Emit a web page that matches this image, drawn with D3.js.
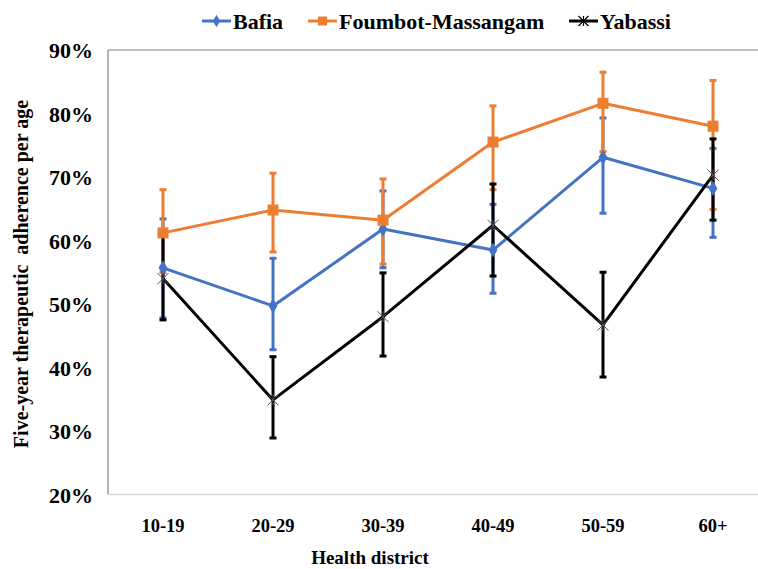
<!DOCTYPE html>
<html>
<head>
<meta charset="utf-8">
<script src="https://cdn.jsdelivr.net/npm/d3@7"></script>
<style>
  body { margin: 0; background: #fff; }
  svg text { font-family: "Liberation Serif", "Times New Roman", serif; font-weight: bold; fill: #000; }
</style>
</head>
<body>
<div id="chart"></div>
<script>
const categories = ["10-19", "20-29", "30-39", "40-49", "50-59", "60+"];

const bafia = [55.7, 49.7, 61.8, 58.5, 73.1, 68.2];
const bafiaHigh = [63.4, 57.2, 67.8, 65.7, 79.3, 74.5];
const bafiaLow = [47.8, 42.8, 55.7, 51.7, 64.3, 60.5];

const foumbot = [61.2, 64.8, 63.2, 75.5, 81.6, 78.0];
const foumbotHigh = [68.0, 70.6, 69.7, 81.2, 86.5, 85.2];
const foumbotLow = [55.0, 58.2, 56.3, 68.0, 74.0, 64.9];

const yabassi = [54.0, 34.9, 48.0, 62.4, 46.7, 70.3];
const yabassiHigh = [61.2, 41.7, 54.9, 68.9, 55.0, 76.0];
const yabassiLow = [47.5, 28.9, 41.8, 54.4, 38.5, 63.2];

const yTicks = [20, 30, 40, 50, 60, 70, 80, 90];

const series = [
    { name: "Bafia", values: bafia, high: bafiaHigh, low: bafiaLow, color: "#4472C4", marker: "diamond" },
    { name: "Foumbot-Massangam", values: foumbot, high: foumbotHigh, low: foumbotLow, color: "#ED7D31", marker: "square" },
    { name: "Yabassi", values: yabassi, high: yabassiHigh, low: yabassiLow, color: "#000000", marker: "star" }
];

let width = 758, height = 569;
let plotLeft = 108, plotTop = 50, plotBottom = 494.5, plotRight = 768;

let svg = d3.select("#chart").append("svg").attr("width", width).attr("height", height);

let x = d3.scaleBand().domain(categories).range([plotLeft, plotRight]).padding(0);
let y = d3.scaleLinear().domain([20, 90]).range([plotBottom, plotTop]);
let cx = c => x(c) + x.bandwidth() / 2;

// plot frame
svg.append("line").attr("x1", plotLeft).attr("x2", width).attr("y1", plotTop).attr("y2", plotTop)
    .attr("stroke", "#808080").attr("stroke-width", 1.2);
svg.append("line").attr("x1", plotLeft).attr("x2", plotLeft).attr("y1", plotTop).attr("y2", plotBottom)
    .attr("stroke", "#808080").attr("stroke-width", 1.2);
svg.append("line").attr("x1", plotLeft).attr("x2", width).attr("y1", plotBottom).attr("y2", plotBottom)
    .attr("stroke", "#d9d9d9").attr("stroke-width", 1.5);

// y axis labels
let yAxis = d3.axisLeft(y).tickValues(yTicks).tickFormat(d => d + "%").tickSize(0).tickPadding(15);
let yg = svg.append("g").attr("transform", `translate(${plotLeft},0)`).call(yAxis);
yg.select(".domain").remove();
yg.selectAll("text").style("font-size", "22px").attr("dy", "0.35em");

// x axis labels
let xAxis = d3.axisBottom(x).tickSize(0).tickPadding(24);
let xg = svg.append("g").attr("transform", `translate(0,${plotBottom})`).call(xAxis);
xg.select(".domain").remove();
xg.selectAll("text").style("font-size", "18.5px");

// axis titles
svg.append("text").attr("x", 370).attr("y", 564).attr("text-anchor", "middle")
    .style("font-size", "19px").text("Health district");
svg.append("text").attr("transform", "translate(28,274) rotate(-90)").attr("text-anchor", "middle")
    .style("font-size", "20px").style("white-space", "pre")
    .text("Five-year therapeutic  adherence per age");

// error bars
series.forEach(s => {
    let g = svg.append("g");
    categories.forEach((c, i) => {
        g.append("line").attr("x1", cx(c)).attr("x2", cx(c))
            .attr("y1", y(s.low[i])).attr("y2", y(s.high[i]))
            .attr("stroke", s.color).attr("stroke-width", 3);
        [s.low[i], s.high[i]].forEach(v => {
            g.append("line").attr("x1", cx(c) - 3.5).attr("x2", cx(c) + 3.5)
                .attr("y1", y(v)).attr("y2", y(v))
                .attr("stroke", s.color).attr("stroke-width", 3);
        });
    });
});

// lines
let line = d3.line().x((d, i) => cx(categories[i])).y(d => y(d));
series.forEach(s => {
    svg.append("path").attr("d", line(s.values)).attr("fill", "none")
        .attr("stroke", s.color).attr("stroke-width", 3).attr("stroke-linejoin", "round");
});

function drawMarker(g, type, px, py, color, size) {
    if (type === "diamond") {
        g.append("path").attr("d", d3.symbol(d3.symbolDiamond, size * size * 0.55)())
            .attr("transform", `translate(${px},${py})`).attr("fill", color);
    } else if (type === "square") {
        g.append("rect").attr("x", px - size / 2).attr("y", py - size / 2)
            .attr("width", size).attr("height", size).attr("fill", color);
    } else {
        let r = size / 2;
        g.append("path")
            .attr("d", `M${px - r},${py - r}L${px + r},${py + r}M${px - r},${py + r}L${px + r},${py - r}M${px},${py - r}L${px},${py + r}`)
            .attr("stroke", "#555").attr("stroke-width", 1).attr("fill", "none");
    }
}

// markers
series.forEach(s => {
    let g = svg.append("g");
    categories.forEach((c, i) => drawMarker(g, s.marker, cx(c), y(s.values[i]), s.color, 11));
});

// legend
let legendX = [202, 308, 569];
series.forEach((s, i) => {
    let g = svg.append("g");
    g.append("line").attr("x1", legendX[i]).attr("x2", legendX[i] + 29).attr("y1", 21).attr("y2", 21)
        .attr("stroke", s.color).attr("stroke-width", 3);
    if (s.marker === "star") {
        let px = legendX[i] + 14.5, r = 5;
        g.append("path")
            .attr("d", `M${px - r},${16}L${px + r},${26}M${px - r},${26}L${px + r},${16}M${px},${16}L${px},${26}`)
            .attr("stroke", "#000").attr("stroke-width", 1.2);
    } else {
        drawMarker(g, s.marker, legendX[i] + 14.5, 21, s.color, 9);
    }
    g.append("text").attr("x", legendX[i] + 31).attr("y", 28.5).style("font-size", "22px").text(s.name);
});
</script>
</body>
</html>
